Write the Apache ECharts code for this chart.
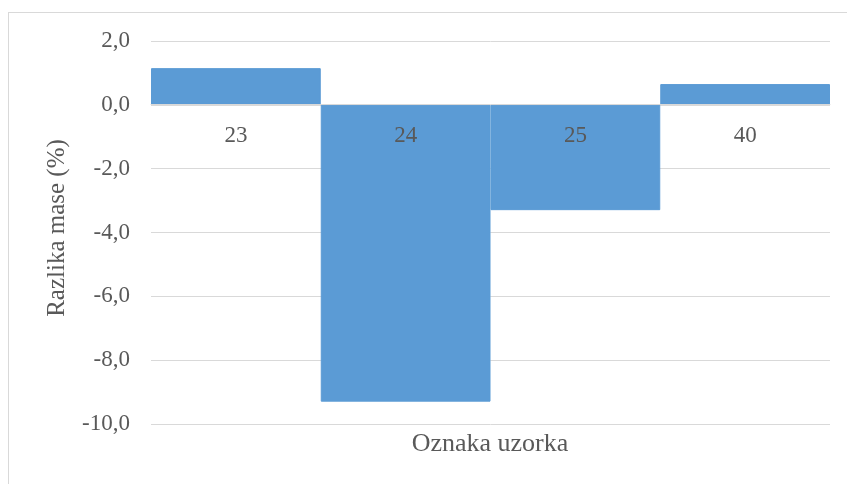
<!DOCTYPE html>
<html>
<head>
<meta charset="utf-8">
<script src="https://cdn.jsdelivr.net/npm/echarts@6/dist/echarts.min.js"></script>
<style>
  html, body { margin: 0; padding: 0; background: #fff; }
  #frame { position: absolute; left: 8px; top: 12px; width: 860px; height: 500px; border: 1px solid #d9d9d9; box-sizing: border-box; }
  #main { position: absolute; left: 0; top: 0; width: 847px; height: 484px; }
</style>
</head>
<body>
<div id="frame"></div>
<div id="main"></div>
<script>
// oznake uzoraka i razlika mase
var categories = ['23', '24', '25', '40'];
var values = [1.15, -9.3, -3.3, 0.65];
var yTicks = { min: -10, max: 2, interval: 2 };

var myChart = echarts.init(document.getElementById('main'));

var option = {
    animation: false,
    grid: { left: 151, right: 17, top: 41, bottom: 60 },
    xAxis: {
        type: 'category',
        data: categories,
        z: 10,
        offset: -320,   // os kategorija na nuli
        axisLine: { onZero: false, lineStyle: { color: '#d9d9d9', width: 1 } },
        axisTick: { show: false },
        axisLabel: {
            color: '#595959',
            fontFamily: 'Liberation Serif',
            fontSize: 23,
            margin: 20
        }
    },
    yAxis: {
        type: 'value',
        min: yTicks.min,
        max: yTicks.max,
        interval: yTicks.interval,
        axisLine: { show: false },
        axisTick: { show: false },
        splitLine: { lineStyle: { color: '#d9d9d9', width: 1 } },
        axisLabel: {
            color: '#595959',
            fontFamily: 'Liberation Serif',
            fontSize: 23,
            margin: 21,
            formatter: function (v) { return v.toFixed(1).replace('.', ','); }
        }
    },
    graphic: [{
        type: 'text',
        x: 490,
        y: 444,
        style: {
            text: 'Oznaka uzorka',
            fill: '#595959',
            fontFamily: 'Liberation Serif',
            fontSize: 26,
            align: 'center',
            verticalAlign: 'middle'
        }
    }, {
        type: 'text',
        x: 57,
        y: 228,
        rotation: Math.PI / 2,
        style: {
            text: 'Razlika mase (%)',
            fill: '#595959',
            fontFamily: 'Liberation Serif',
            fontSize: 25,
            align: 'center',
            verticalAlign: 'middle'
        }
    }],
    series: [{
        type: 'bar',
        data: values,
        barCategoryGap: 0,
        itemStyle: { color: '#5b9bd5', borderColor: '#5b9bd5', borderWidth: 1 }
    }]
};

myChart.setOption(option);
</script>
</body>
</html>
